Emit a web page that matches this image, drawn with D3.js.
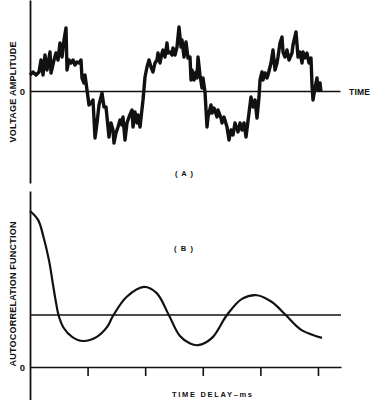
<!DOCTYPE html>
<html>
<head>
<meta charset="utf-8">
<script src="https://cdn.jsdelivr.net/npm/d3@7"></script>
<style>
  html, body { margin: 0; padding: 0; background: #fff; }
  svg { display: block; }
  text { font-family: "Liberation Sans", Arial, sans-serif; font-weight: bold; fill: #111; }
</style>
</head>
<body>
<svg id="chart" width="376" height="400"></svg>
<script>
// ---- Panel (A): voltage waveform (time in arbitrary units, voltage in arbitrary units)
const timeValues = [0,3,6,9,11,13,15,17,20,21,24,26,28,30,32,34,36,37,39,41,43,45,47,49,51,52,54,55,57,59,61,63,65,67,69,72,74,76,77,79,81,83,84,86,88,90,92,93,95,97,99,102,103,105,107,108,110,113,115,117,119,121,123,125,127,128,130,132,133,135,137,138,140,142,143,145,147,149,151,152,154,156,158,160,161,162,164,166,167,168,170,172,173,175,177,178,181,182,184,187,188,191,192,194,197,199,201,203,205,208,210,212,214,216,219,221,223,225,227,229,230,232,233,235,237,238,241,243,245,247,248,250,252,253,255,257,259,262,263,266,268,270,272,273,275,277,279,281,282,283,285,287,288,290,291];
const voltageValues = [16,19,16,19,31,16,36,21,39,18,31,38,31,48,34,51,63,21,31,28,31,26,29,28,31,13,8,16,1,-14,-12,-9,-47,-32,-14,-2,-16,-16,-26,-46,-32,-39,-52,-42,-36,-29,-34,-26,-49,-32,-26,-19,-36,-21,-32,-24,-36,-9,14,24,31,24,19,28,31,38,28,38,41,34,48,38,39,36,43,36,44,64,44,51,34,49,33,34,11,21,11,19,13,34,16,3,13,-1,-36,-26,-14,-22,-17,-26,-19,-27,-32,-26,-36,-49,-39,-44,-32,-41,-32,-39,-32,-46,-22,-6,-16,-9,-27,-6,11,19,11,18,13,16,28,41,21,28,34,48,54,39,34,41,31,38,46,59,34,39,28,39,33,38,28,33,6,-9,3,13,1,8,-1];
const voltageTickValues = [0];
const voltageTickLabels = ["0"];

// ---- Panel (B): autocorrelation function vs time delay (ms)
const delayValues = [0,0.14,0.23,0.33,0.40,0.45,0.50,0.58,0.73,0.92,1.16,1.34,1.44,1.68,1.98,2.20,2.41,2.60,2.78,2.92,3.16,3.42,3.68,3.94,4.20,4.44,4.69,4.90,5.07];
const autocorrValues = [3.00,2.83,2.52,2.05,1.58,1.25,0.98,0.76,0.58,0.50,0.58,0.77,0.98,1.35,1.54,1.42,1.00,0.60,0.45,0.42,0.56,1.00,1.31,1.38,1.25,1.00,0.73,0.62,0.56];
const meanLevel = [1];
const delayTickValues = [1,2,3,4,5];
const autocorrTickValues = [0];
const autocorrTickLabels = ["0"];

const svg = d3.select("#chart");

// ---------- Panel A ----------
const xA = d3.scaleLinear().domain([0, 310]).range([30, 340]);
const yA = d3.scaleLinear().domain([-92, 91]).range([183, 0]);

svg.append("g")
  .attr("transform", `translate(0,${yA(0)})`)
  .call(d3.axisBottom(xA).tickValues([]).tickSizeOuter(0))
  .call(g => g.select(".domain").attr("stroke", "#111").attr("stroke-width", 1.6));

svg.append("g")
  .attr("transform", `translate(${xA(0)},0)`)
  .call(d3.axisLeft(yA).tickValues(voltageTickValues).tickSize(0).tickPadding(5)
    .tickFormat((d, i) => voltageTickLabels[i]).tickSizeOuter(0))
  .call(g => g.select(".domain").attr("stroke", "#111").attr("stroke-width", 1.8))
  .call(g => g.selectAll("text").attr("font-size", 9.5).attr("font-family", "Liberation Sans, Arial, sans-serif").attr("font-weight", "bold").attr("fill", "#111"));

svg.append("path")
  .datum(timeValues.map((t, i) => [t, voltageValues[i]]))
  .attr("fill", "none")
  .attr("stroke", "#111")
  .attr("stroke-width", 3.4)
  .attr("stroke-linejoin", "round")
  .attr("d", d3.line().x(d => xA(d[0])).y(d => yA(d[1])));

svg.append("text")
  .attr("transform", `translate(16,${92}) rotate(-90)`)
  .attr("text-anchor", "middle")
  .attr("font-size", 9)
  .attr("textLength", 101).attr("lengthAdjust", "spacing")
  .text("VOLTAGE AMPLITUDE");

svg.append("text")
  .attr("x", 349).attr("y", yA(0) + 3.5)
  .attr("font-size", 8.5)
  .attr("textLength", 21).attr("lengthAdjust", "spacing")
  .text("TIME");

svg.append("text")
  .attr("x", 175).attr("y", 176)
  .attr("font-size", 7.5)
  .attr("textLength", 18).attr("lengthAdjust", "spacing")
  .text("(A)");

// ---------- Panel B ----------
const xB = d3.scaleLinear().domain([0, 5.4]).range([30, 341]);
const yB = d3.scaleLinear().domain([-0.635, 3.385]).range([400, 191]);

svg.append("g")
  .attr("transform", `translate(0,${yB(0)})`)
  .call(d3.axisBottom(xB).tickValues(delayTickValues).tickSize(9).tickFormat("").tickSizeOuter(0))
  .call(g => g.select(".domain").attr("stroke", "#111").attr("stroke-width", 1.6))
  .call(g => g.selectAll(".tick line").attr("stroke", "#111").attr("stroke-width", 1.6));

svg.append("g")
  .selectAll("line")
  .data(meanLevel)
  .join("line")
  .attr("x1", xB(0)).attr("x2", xB(5.4))
  .attr("y1", d => yB(d)).attr("y2", d => yB(d))
  .attr("stroke", "#111").attr("stroke-width", 1.3);

svg.append("g")
  .attr("transform", `translate(${xB(0)},0)`)
  .call(d3.axisLeft(yB).tickValues(autocorrTickValues).tickSize(0).tickPadding(5)
    .tickFormat((d, i) => autocorrTickLabels[i]).tickSizeOuter(0))
  .call(g => g.select(".domain").attr("stroke", "#111").attr("stroke-width", 1.8))
  .call(g => g.selectAll("text").attr("font-size", 9.5).attr("font-family", "Liberation Sans, Arial, sans-serif").attr("font-weight", "bold").attr("fill", "#111"));

svg.append("path")
  .datum(delayValues.map((t, i) => [t, autocorrValues[i]]))
  .attr("fill", "none")
  .attr("stroke", "#111")
  .attr("stroke-width", 2.2)
  .attr("d", d3.line().curve(d3.curveCatmullRom).x(d => xB(d[0])).y(d => yB(d[1])));

svg.append("text")
  .attr("transform", `translate(16,${294}) rotate(-90)`)
  .attr("text-anchor", "middle")
  .attr("font-size", 9)
  .attr("textLength", 145).attr("lengthAdjust", "spacing")
  .text("AUTOCORRELATION FUNCTION");

svg.append("text")
  .attr("x", 174).attr("y", 251)
  .attr("font-size", 7.5)
  .attr("textLength", 19).attr("lengthAdjust", "spacing")
  .text("(B)");

svg.append("text")
  .attr("x", 172).attr("y", 397)
  .attr("font-size", 7.5)
  .attr("textLength", 80).attr("lengthAdjust", "spacing")
  .text("TIME DELAY–ms");
</script>
</body>
</html>
